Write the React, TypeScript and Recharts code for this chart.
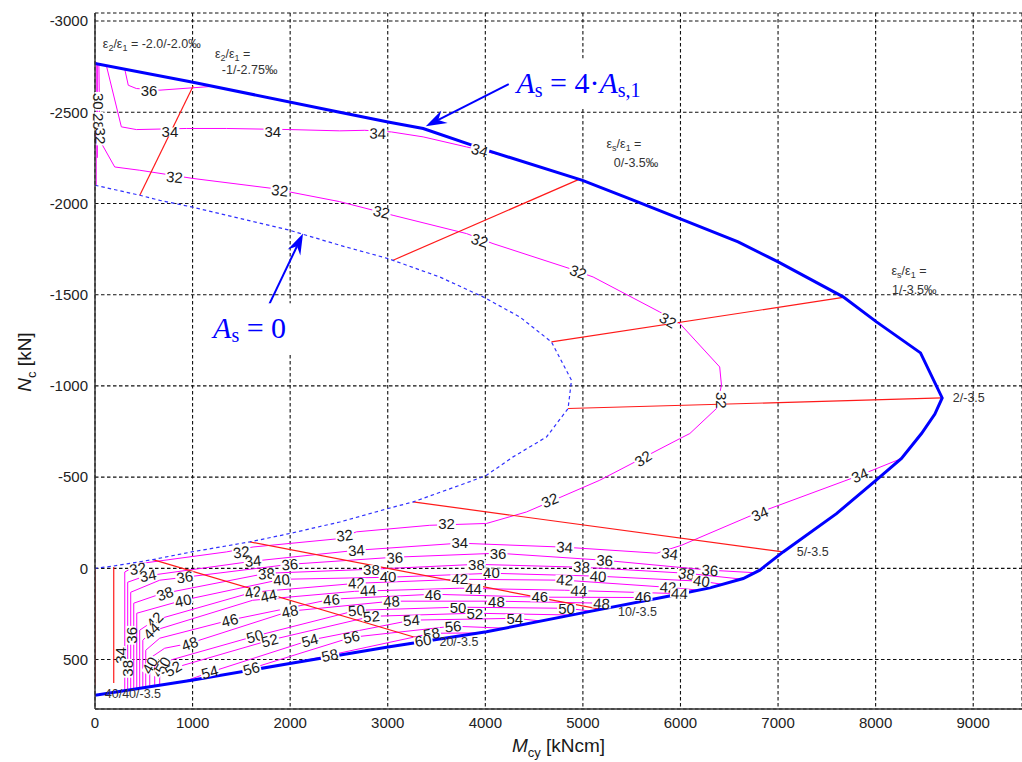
import React from 'react';
import {
  ComposedChart,
  Line,
  XAxis,
  YAxis,
  CartesianGrid,
  ReferenceDot,
  ReferenceLine,
} from 'recharts';

type Pt = [number, number];

const xTicks = [0, 1000, 2000, 3000, 4000, 5000, 6000, 7000, 8000, 9000];
const yTicks = [-3000, -2500, -2000, -1500, -1000, -500, 0, 500];

// interaction boundary, As = 4·As,1
const boundaryAs4: Pt[] = [
  [0, -2767], [991, -2666], [2508, -2500], [3003, -2447], [3363, -2411], [4012, -2292],
  [4996, -2127], [5515, -2018], [5993, -1917], [6591, -1789], [7001, -1680], [7667, -1488],
  [8009, -1351], [8460, -1181], [8682, -934], [8607, -846], [8470, -739], [8265, -602],
  [8009, -485], [7599, -300], [7052, -90], [6813, 10], [6643, 56], [6301, 107], [5993, 141],
  [4996, 244], [4012, 348], [3003, 431], [1996, 522], [991, 613], [0, 696],
];

// interaction boundary, As = 0
const boundaryAs0: Pt[] = [
  [0, -2100], [459, -2045], [665, -2017], [991, -1981], [1996, -1853], [2508, -1771],
  [3003, -1698], [3533, -1597], [3977, -1488], [4353, -1378], [4678, -1241], [4883, -1031],
  [4848, -876], [4627, -720], [4285, -611], [4012, -510], [3841, -475], [3260, -364],
  [3003, -328], [2508, -254], [1996, -191], [1586, -145], [991, -90], [594, -48], [184, -12], [0, 0],
];

// strain states eps2/eps1 (straight lines)
const strainM1: Pt[] = [[459, -2045], [1005, -2643]];
const strain0: Pt[] = [[3055, -1689], [4960, -2132]];
const strain1: Pt[] = [[4678, -1241], [7667, -1485]];
const strain2: Pt[] = [[4848, -876], [8682, -934]];
const strain5: Pt[] = [[3260, -364], [7052, -90]];
const strain10: Pt[] = [[1586, -145], [5171, 224]];
const strain20: Pt[] = [[594, -48], [3380, 394]];
const strain40a: Pt[] = [[0, 0], [0, 641]];
const strain40b: Pt[] = [[192, -8], [192, 628]];
const strainLines = [strainM1, strain0, strain1, strain2, strain5, strain10, strain20, strain40a, strain40b];

// contour lines
const c28: Pt[] = [[12, -2775], [12, -2100]];
const c30: Pt[] = [[24, -2770], [24, -2250]];
const c32: Pt[] = [
  [40, -2760], [49, -2346], [202, -2200], [459, -2182], [1005, -2137], [1825, -2082],
  [1996, -2063], [2508, -2010], [3055, -1935], [3807, -1835], [4079, -1780], [4866, -1643],
  [5105, -1597], [5788, -1405], [5993, -1342], [6402, -1104], [6420, -1004], [6369, -876],
  [6096, -739], [5993, -711], [5173, -483], [4422, -309], [4012, -246], [3431, -236],
  [2679, -200], [2508, -163], [1620, -117], [1347, -90], [459, -26], [305, 20], [305, 668],
];
const c34top: Pt[] = [
  [117, -2755], [270, -2420], [424, -2405], [937, -2411], [1347, -2411], [1996, -2405],
  [2508, -2398], [2764, -2401], [3038, -2392], [3363, -2365], [3807, -2310], [4230, -2256],
];
const c36top: Pt[] = [[305, -2736], [341, -2648], [424, -2630], [665, -2621], [1210, -2642]];
const c34: Pt[] = [
  [335, 667], [335, 76], [509, 43], [1616, -39], [2682, -99], [3738, -138], [4814, -116],
  [5757, -83], [6013, -127], [6731, -291], [7838, -510], [8265, -602],
];
const c36: Pt[] = [
  [366, 664], [366, 131], [663, 65], [919, 49], [1996, -22], [3072, -61], [4128, -83],
  [5224, -44], [6301, 10], [6763, 24],
];
const c38: Pt[] = [
  [397, 661], [397, 191], [663, 142], [1760, 27], [2836, 5], [3912, -22], [4989, -6],
  [6065, 27], [6608, 58],
];
const c40: Pt[] = [
  [428, 658], [428, 246], [901, 175], [1914, 60], [3000, 49], [4066, 27], [5153, 43],
  [6219, 71], [6424, 87],
];
const c42: Pt[] = [
  [458, 656], [458, 339], [612, 284], [1616, 131], [2682, 82], [3738, 60], [4814, 65],
  [5870, 104], [6177, 119],
];
const c44: Pt[] = [
  [490, 653], [490, 394], [581, 345], [1616, 175], [2661, 126], [3738, 109], [4814, 120],
  [5870, 137], [6075, 133],
];
const c46: Pt[] = [
  [520, 650], [520, 449], [663, 383], [1381, 284], [2426, 169], [3461, 142], [4558, 158],
  [5613, 160], [5685, 170],
];
const c48: Pt[] = [
  [561, 647], [561, 493], [714, 438], [970, 411], [1996, 235], [3041, 180], [4118, 180],
  [5194, 191], [5296, 213],
];
const c50: Pt[] = [
  [612, 642], [612, 531], [766, 504], [1637, 372], [2682, 230], [3718, 213], [4835, 219], [5091, 235],
];
const c52: Pt[] = [[663, 638], [663, 570], [796, 548], [1791, 394], [2836, 263], [3892, 246], [4886, 256]];
const c54: Pt[] = [[919, 619], [1176, 570], [2201, 394], [3246, 284], [4302, 274], [4558, 288]];
const c56: Pt[] = [[1483, 567], [1606, 548], [2631, 378], [3666, 317], [4200, 328]];
const c58: Pt[] = [[2098, 511], [2406, 476], [3451, 356], [3923, 354]];
const c60: Pt[] = [[2918, 440], [3359, 397], [3584, 383]];
const contourLines = [
  c28, c30, c32, c34top, c36top, c34, c36, c38, c40, c42, c44, c46, c48, c50, c52, c54, c56, c58, c60,
];

// contour level labels: [text, x, y, angle]
const contourLabels: [string, number, number, number][] = [
  ['36', 554, -2617, 0],
  ['34', 768, -2392, 0], ['34', 1823, -2392, 0], ['34', 2898, -2385, 2], ['34', 3943, -2292, 15],
  ['32', 815, -2145, 5], ['32', 1894, -2072, 7], ['32', 2936, -1954, 12], ['32', 3943, -1798, 18],
  ['32', 4951, -1625, 20], ['32', 5873, -1360, 30], ['32', 6420, -921, 90], ['32', 5617, -602, -33],
  ['32', 4661, -373, -23], ['32', 3602, -246, 0], ['32', 2559, -181, -7], ['32', 1501, -90, -7],
  ['32', 439, 0, -10],
  ['30', 40, -2560, 90], ['28', 40, -2450, 90], ['32', 60, -2370, 90],
  ['34', 543, 38, -10], ['34', 1619, -41, -5], ['34', 2679, -99, -4], ['34', 3738, -139, 0],
  ['34', 4814, -117, 4], ['34', 5891, -81, 8], ['34', 6814, -300, -23], ['34', 7838, -510, -23],
  ['34', 264, 477, -90],
  ['36', 919, 47, -8], ['36', 1996, -22, -5], ['36', 3072, -59, -3], ['36', 4131, -84, 0],
  ['36', 5224, -44, 4], ['36', 6301, 10, 4], ['36', 373, 367, -90],
  ['38', 716, 138, -20], ['38', 1757, 29, -5], ['38', 2833, 7, 0], ['38', 3909, -21, 0],
  ['38', 4986, -8, 4], ['38', 6062, 29, 8], ['38', 336, 548, -90],
  ['40', 902, 175, -12], ['40', 1911, 61, -5], ['40', 3003, 47, 0], ['40', 4063, 25, 0],
  ['40', 5156, 43, 3], ['40', 6216, 69, 8], ['40', 562, 531, -60],
  ['42', 612, 284, -45], ['42', 1619, 129, -10], ['42', 2679, 80, -3], ['42', 3738, 58, 0],
  ['42', 4814, 62, 3], ['42', 5873, 103, 3],
  ['44', 578, 343, -45], ['44', 1780, 150, -12], ['44', 2800, 120, -3], ['44', 3880, 112, 0],
  ['44', 4960, 122, 3], ['44', 5990, 137, 3],
  ['46', 1381, 284, -15], ['46', 2423, 171, -5], ['46', 3465, 142, 0], ['46', 4558, 157, 0],
  ['46', 5617, 152, 0], ['46', 663, 548, -60],
  ['48', 970, 412, -20], ['48', 1996, 235, -12], ['48', 3038, 180, -3], ['48', 4114, 184, 0],
  ['48', 5191, 193, 3],
  ['50', 694, 531, -60], ['50', 1637, 372, -15], ['50', 2679, 230, -5], ['50', 3721, 215, 0],
  ['50', 4832, 220, 0],
  ['52', 800, 549, -30], ['52', 1791, 394, -15], ['52', 2833, 263, -5], ['52', 3892, 248, 0],
  ['54', 1176, 568, -15], ['54', 2201, 394, -15], ['54', 3243, 284, -5], ['54', 4302, 275, 0],
  ['56', 1603, 549, -15], ['56', 2628, 376, -12], ['56', 3670, 317, -5],
  ['58', 2406, 476, -12], ['58', 3448, 357, -10],
  ['60', 3362, 394, -10],
];

// strain notes: [subscripts, text, x, y]
const strainNotes: [string, string, number, number][] = [
  ['21', ' = -2.0/-2.0‰', 80, -2851],
  ['21', ' =', 1229, -2800],
  ['', '-1/-2.75‰', 1300, -2708],
  ['s1', ' =', 5242, -2302],
  ['', '0/-3.5‰', 5317, -2199],
  ['s1', ' =', 8163, -1607],
  ['', '1/-3.5‰', 8169, -1502],
  ['', '2/-3.5', 8791, -910],
  ['', '5/-3.5', 7191, -66],
  ['', '10/-3.5', 5360, 262],
  ['', '20/-3.5', 3530, 428],
  ['', '40/40/-3.5', 100, 712],
];

const SANS = '"Liberation Sans", Arial, sans-serif';
const SERIF = '"Liberation Serif", "Times New Roman", serif';
const BLUE = '#0000ff';

const rows = (pts: Pt[]) => pts.map(([x, y]) => ({ x, y }));

const ContourText = ({ cx, cy, text, angle }: any) => {
  const w = text.length * 8.4 + 2;
  return (
    <g transform={`rotate(${angle} ${cx} ${cy})`}>
      <rect x={cx - w / 2} y={cy - 4.5} width={w} height={9} fill="#fff" />
      <text
        x={cx}
        y={cy}
        textAnchor="middle"
        dominantBaseline="central"
        fontFamily={SANS}
        fontSize={15}
        fill="#1a1a1a"
      >
        {text}
      </text>
    </g>
  );
};

const NoteText = ({ cx, cy, subs, text }: any) => (
  <text x={cx} y={cy} fontFamily={SANS} fontSize={12.5} fill="#333">
    {subs ? (
      <>
        <tspan>ε</tspan>
        <tspan dy={3} fontSize={9}>{subs[0]}</tspan>
        <tspan dy={-3}>/ε</tspan>
        <tspan dy={3} fontSize={9}>{subs[1]}</tspan>
        <tspan dy={-3}>{text}</tspan>
      </>
    ) : (
      text
    )}
  </text>
);

const AsFullText = ({ cx, cy }: any) => (
  <g>
    <rect x={cx - 4} y={cy - 35} width={148} height={49} fill="#fff" />
    <text x={cx} y={cy} fontFamily={SERIF} fontSize={30} fill={BLUE}>
      <tspan fontStyle="italic">A</tspan>
      <tspan fontSize={20} dy={4}>s</tspan>
      <tspan dy={-4}> = 4·</tspan>
      <tspan fontStyle="italic">A</tspan>
      <tspan fontSize={20} dy={4}>s,1</tspan>
    </text>
  </g>
);

const AsZeroText = ({ cx, cy }: any) => (
  <g>
    <rect x={cx - 5} y={cy - 35} width={92} height={50} fill="#fff" />
    <text x={cx} y={cy} fontFamily={SERIF} fontSize={30} fill={BLUE}>
      <tspan fontStyle="italic">A</tspan>
      <tspan fontSize={20} dy={4}>s</tspan>
      <tspan dy={-4}> = 0</tspan>
    </text>
  </g>
);

const Arrow = (p: any) => {
  const { x1, y1, x2, y2 } = p;
  const ang = Math.atan2(y2 - y1, x2 - x1);
  const c = Math.cos(ang);
  const s = Math.sin(ang);
  const len = 21;
  const half = 7;
  const nx = x2 - 14 * c;
  const ny = y2 - 14 * s;
  const bx = x2 - len * c;
  const by = y2 - len * s;
  const head = [
    [x2, y2],
    [bx - half * s, by + half * c],
    [nx, ny],
    [bx + half * s, by - half * c],
  ];
  return (
    <g>
      <line x1={x1} y1={y1} x2={nx} y2={ny} stroke={BLUE} strokeWidth={2} />
      <polygon points={head.map((q) => q.join(',')).join(' ')} fill={BLUE} />
    </g>
  );
};

const XTitle = (props: any) => {
  const vb = props.viewBox;
  return (
    <text x={vb.x + vb.width / 2} y={vb.y + 43} textAnchor="middle" fontFamily={SANS} fontSize={19} fill="#1a1a1a">
      <tspan fontStyle="italic">M</tspan>
      <tspan dy={5} fontSize={13}>cy</tspan>
      <tspan dy={-5}> [kNcm]</tspan>
    </text>
  );
};

const YTitle = (props: any) => {
  const vb = props.viewBox;
  const x = vb.x + 31;
  const y = vb.y + vb.height / 2 + 1;
  return (
    <text
      x={x}
      y={y}
      transform={`rotate(-90 ${x} ${y})`}
      textAnchor="middle"
      fontFamily={SANS}
      fontSize={19}
      fill="#1a1a1a"
    >
      <tspan fontStyle="italic">N</tspan>
      <tspan dy={5} fontSize={13}>c</tspan>
      <tspan dy={-5}> [kN]</tspan>
    </text>
  );
};

const tickStyle = { fontSize: 15, fill: '#222', fontFamily: SANS };

export default function App() {
  return (
    <div style={{ position: 'absolute', left: 0, top: 0, width: 1022, height: 762, background: '#fff' }}>
      <ComposedChart width={1022} height={762} margin={{ top: 13, right: 0, bottom: 0, left: 0 }}>
        <CartesianGrid strokeDasharray="3.5 2.5" stroke="#111" strokeWidth={1.1} />
        <XAxis
          dataKey="x"
          type="number"
          domain={[0, 9500]}
          ticks={xTicks}
          allowDataOverflow
          height={53}
          tickLine={false}
          tickSize={6}
          tickMargin={2}
          axisLine={{ stroke: '#333', strokeWidth: 1.5 }}
          tick={tickStyle}
          label={XTitle}
        />
        <YAxis
          type="number"
          domain={[-3044, 771]}
          ticks={yTicks}
          reversed
          allowDataOverflow
          width={95}
          tickLine={false}
          tickSize={5}
          tickMargin={2}
          axisLine={{ stroke: '#333', strokeWidth: 1.5 }}
          tick={tickStyle}
          label={YTitle}
        />

        {contourLines.map((pts, i) => (
          <Line
            key={`c${i}`}
            data={rows(pts)}
            dataKey="y"
            type="linear"
            stroke="#ff00ff"
            strokeWidth={1}
            dot={false}
            activeDot={false}
            isAnimationActive={false}
          />
        ))}
        {strainLines.map((pts, i) => (
          <Line
            key={`s${i}`}
            data={rows(pts)}
            dataKey="y"
            type="linear"
            stroke="#ff1a1a"
            strokeWidth={1.2}
            dot={false}
            activeDot={false}
            isAnimationActive={false}
          />
        ))}
        <Line
          data={rows(boundaryAs0)}
          dataKey="y"
          type="linear"
          stroke="#3030ff"
          strokeWidth={1.2}
          strokeDasharray="3.5 3"
          dot={false}
          activeDot={false}
          isAnimationActive={false}
        />
        <Line
          data={rows(boundaryAs4)}
          dataKey="y"
          type="linear"
          stroke={BLUE}
          strokeWidth={3}
          dot={false}
          activeDot={false}
          isAnimationActive={false}
        />

        {contourLabels.map(([t, x, y, a], i) => (
          <ReferenceDot
            key={`l${i}`}
            x={x}
            y={y}
            r={1}
            ifOverflow="visible"
            shape={(p: any) => <ContourText cx={p.cx} cy={p.cy} text={t} angle={a} />}
          />
        ))}
        {strainNotes.map(([subs, t, x, y], i) => (
          <ReferenceDot
            key={`n${i}`}
            x={x}
            y={y}
            r={1}
            ifOverflow="visible"
            shape={(p: any) => <NoteText cx={p.cx} cy={p.cy} subs={subs} text={t} />}
          />
        ))}

        <ReferenceLine
          segment={[{ x: 4240, y: -2654 }, { x: 3390, y: -2423 }]}
          ifOverflow="visible"
          shape={Arrow}
        />
        <ReferenceLine
          segment={[{ x: 1773, y: -1433 }, { x: 2132, y: -1835 }]}
          ifOverflow="visible"
          shape={Arrow}
        />
        <ReferenceDot x={4319} y={-2603} r={1} ifOverflow="visible" shape={(p: any) => <AsFullText cx={p.cx} cy={p.cy} />} />
        <ReferenceDot x={1210} y={-1261} r={1} ifOverflow="visible" shape={(p: any) => <AsZeroText cx={p.cx} cy={p.cy} />} />
      </ComposedChart>
    </div>
  );
}
